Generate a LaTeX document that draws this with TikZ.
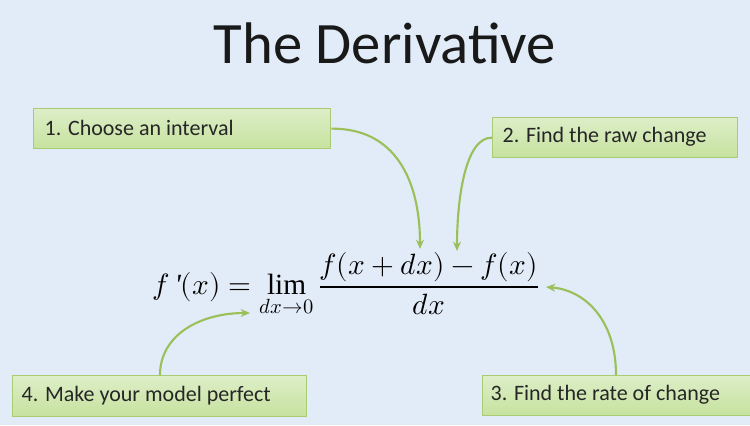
\documentclass[tikz,border=0pt]{standalone}
\usepackage{fontspec}
\setmainfont{Carlito}
\usepackage{amsmath}
\usepackage{unicode-math}
\setmathfont{Latin Modern Math}
\newfontfamily\serif{Liberation Serif}
\usetikzlibrary{arrows.meta}
\definecolor{bg}{HTML}{E2ECF8}
\definecolor{gtop}{HTML}{DDEEC8}
\definecolor{gbot}{HTML}{C6E29E}
\definecolor{gborder}{HTML}{A9CC72}
\definecolor{garrow}{HTML}{9BC05A}
\tikzset{
  stepbox/.style={draw=gborder, line width=1pt, top color=gtop, bottom color=gbot, anchor=north west, inner sep=0pt},
  steptext/.style={anchor=west, font=\fontsize{16.5}{19}\selectfont, text=black!85},
  conn/.style={draw=garrow, line width=1.6pt, -{Stealth[length=7pt,width=6pt]}}
}
\begin{document}
\begin{tikzpicture}[x=0.75pt,y=-0.75pt]
\fill[bg] (0,0) rectangle (750,425);
\useasboundingbox (0,0) rectangle (750,425);
\node[font=\fontsize{44}{52}\selectfont, text=black!90] (title) at (385,43) {The Derivative};
\node[stepbox, minimum width=297*0.75pt, minimum height=40*0.75pt] (b1) at (33,108) {};
\node[steptext] (t1) at (40,128) {1. Choose an interval};
\node[stepbox, minimum width=245*0.75pt, minimum height=40*0.75pt] (b2) at (492,117) {};
\node[steptext] (t2) at (498,137) {2. Find the raw change};
\node[stepbox, minimum width=268*0.75pt, minimum height=40*0.75pt] (b3) at (482,375) {};
\node[steptext] (t3) at (486,395) {3. Find the rate of change};
\node[stepbox, minimum width=294*0.75pt, minimum height=41*0.75pt] (b4) at (12,375) {};
\node[steptext] (t4) at (17,396) {4. Make your model perfect};
\node[font=\fontsize{22}{26}\selectfont, inner sep=0pt] (eq) at (346,285) {$f\text{\serif\itshape\,'}(x)=\mathop{\text{\serif lim}}\limits_{dx\to0}\dfrac{f(x+dx)-f(x)}{dx}$};
\coordinate (e1) at (420,249);
\coordinate (e2) at (457,251);
\coordinate (e3) at (546,287);
\coordinate (e4) at (250,313);
\draw[conn] (b1.east) .. controls (395,128) and (420,180) .. (e1);
\draw[conn] (b2.west) .. controls (465,137) and (457,200) .. (e2);
\draw[conn] (b3.north west -| 616,375) .. controls (616,320) and (585,290) .. (e3);
\draw[conn] (b4.north west -| 160,375) .. controls (160,335) and (200,313) .. (e4);
\end{tikzpicture}
\end{document}
